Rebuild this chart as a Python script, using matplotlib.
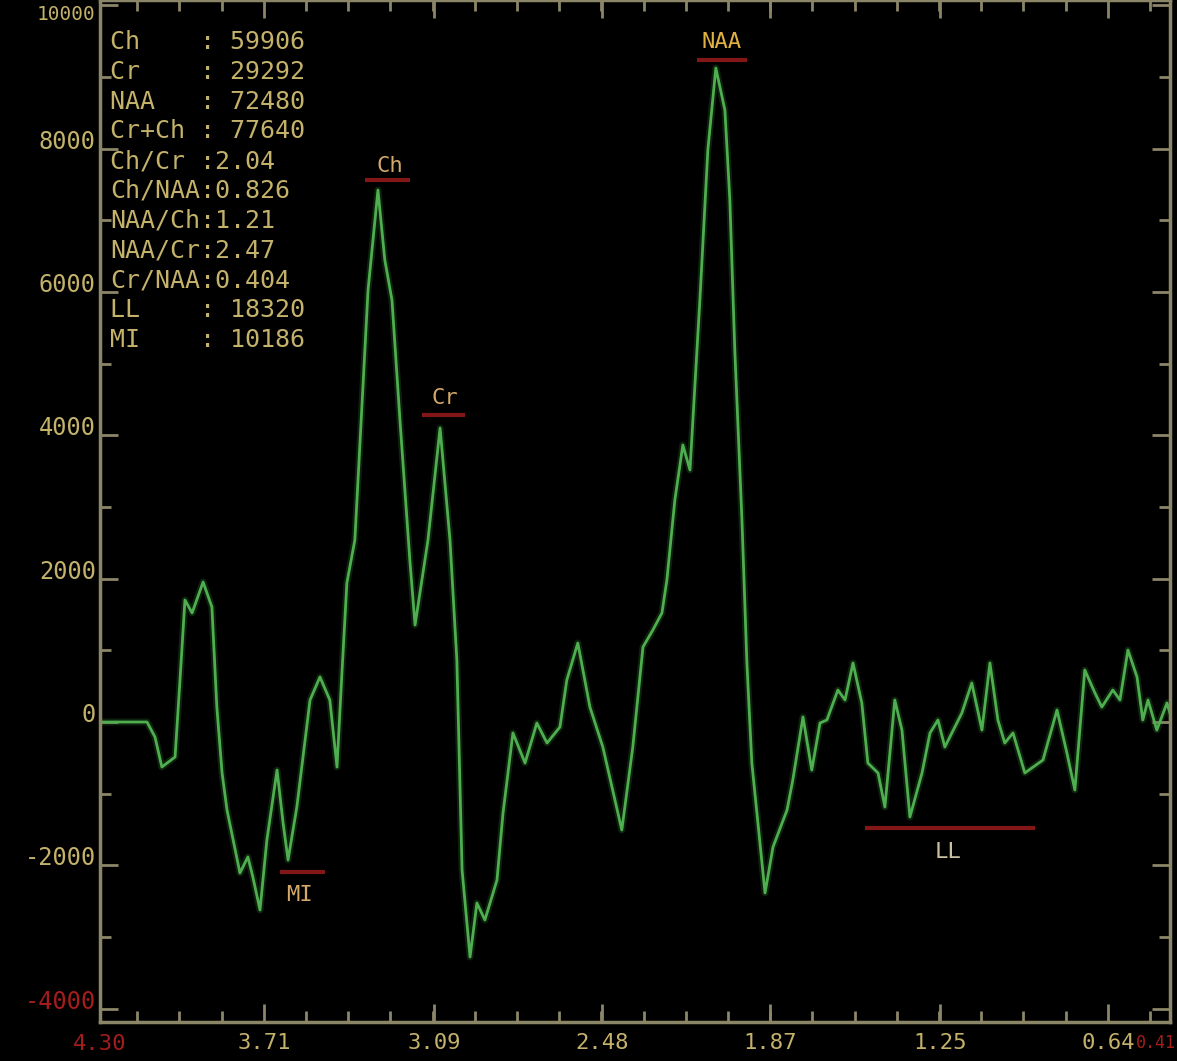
import numpy as np
import matplotlib
matplotlib.use("Agg")
import matplotlib.pyplot as plt
from matplotlib.ticker import FixedLocator

# ---------------- data ----------------
ppm = [4.306, 4.135, 4.106, 4.081, 4.033, 4.015, 3.997, 3.971, 3.931, 3.899,
       3.881, 3.862, 3.844, 3.797, 3.768, 3.750, 3.724, 3.699, 3.662, 3.640,
       3.622, 3.590, 3.542, 3.506, 3.470, 3.444, 3.426, 3.408, 3.379, 3.331,
       3.295, 3.270, 3.244, 3.215, 3.179, 3.160, 3.113, 3.069, 3.033, 3.008,
       2.989, 2.960, 2.935, 2.906, 2.862, 2.840, 2.804, 2.760, 2.717, 2.680,
       2.633, 2.608, 2.568, 2.524, 2.477, 2.408, 2.368, 2.331, 2.295, 2.262,
       2.244, 2.215, 2.186, 2.160, 2.124, 2.095, 2.066, 2.033, 2.015, 1.997,
       1.971, 1.953, 1.935, 1.887, 1.858, 1.807, 1.786, 1.749, 1.717, 1.687,
       1.662, 1.622, 1.596, 1.567, 1.535, 1.513, 1.476, 1.451, 1.415, 1.389,
       1.360, 1.316, 1.287, 1.258, 1.233, 1.171, 1.135, 1.098, 1.069, 1.040,
       1.015, 0.985, 0.942, 0.876, 0.825, 0.789, 0.760, 0.724, 0.687, 0.662,
       0.622, 0.596, 0.567, 0.534, 0.513, 0.494, 0.462, 0.425, 0.407]
intensity = [0, 0, -209, -628, -488, 586, 1702, 1521, 1953, 1604,
             209, -711, -1228, -2106, -1883, -2162, -2623, -1646, -670, -1409,
             -1925, -1186, 307, 628, 307, -628, 684, 1939, 2539, 6026,
             7421, 6445, 5887, 4213, 2260, 1353, 2539, 4101, 2539, 865,
             -2065, -3278, -2525, -2762, -2204, -1269, -153, -572, -14, -293,
             -70, 586, 1102, 209, -349, -1507, -349, 1046, 1283, 1521,
             1981, 3097, 3864, 3515, 5887, 7979, 9123, 8537, 7282, 5189,
             2818, 823, -572, -2385, -1744, -1228, -809, 70, -670, -14,
             28, 446, 307, 823, 265, -572, -711, -1186, 307, -112,
             -1325, -711, -153, 28, -349, 126, 544, -112, 823, 28,
             -293, -153, -711, -530, 167, -432, -949, 725, 405, 209,
             446, 307, 1004, 628, 28, 307, -112, 265, 28]

x_tick_values = [3.71, 3.09, 2.48, 1.87, 1.25, 0.64]
x_tick_labels = ["3.71", "3.09", "2.48", "1.87", "1.25", "0.64"]
x_left_label = "4.30"
x_right_label = "0.41"
y_tick_values = [-4000, -2000, 0, 2000, 4000, 6000, 8000, 10000]
y_tick_labels = ["-4000", "-2000", "0", "2000", "4000", "6000", "8000", "10000"]

metab_names = ["Ch", "Cr", "NAA", "Cr+Ch", "Ch/Cr", "Ch/NAA", "NAA/Ch",
               "NAA/Cr", "Cr/NAA", "LL", "MI"]
metab_values = ["59906", "29292", "72480", "77640", "2.04", "0.826", "1.21",
                "2.47", "0.404", "18320", "10186"]

# peak annotations: (label, text ppm, text value, bar start, bar end, bar value)
peak_labels = [
    ("Ch", 3.251, 7750, 3.342, 3.179, 7560),
    ("Cr", 3.051, 4520, 3.135, 2.978, 4283),
    ("NAA", 2.044, 9480, 2.135, 1.953, 9235),
    ("MI", 3.579, -2420, 3.651, 3.488, -2093),
    ("LL", 1.222, -1820, 1.524, 0.905, -1479),
]

# ---------------- style ----------------
AXCOL = "#8c8668"
TXTCOL = "#c4b26a"
RED = "#a51c1c"
GREEN = "#3f9f3f"
FONT = "DejaVu Sans Mono"
FS = 16

W, H = 1177, 1061
fig = plt.figure(figsize=(W / 100, H / 100), dpi=100, facecolor="black")
ax = fig.add_axes([100 / W, 39 / H, 1070 / W, 1022 / H])
ax.set_facecolor("black")

ax.plot(ppm, intensity, color=GREEN, lw=5, alpha=0.22, solid_joinstyle="round")
ax.plot(ppm, intensity, color="#4fae4f", lw=2.0, solid_joinstyle="round")

ax.set_xlim(4.306, 0.414)
ax.set_ylim(-4185, 10072)

for s in ax.spines.values():
    s.set_color(AXCOL)
    s.set_linewidth(2.5)

# ticks
ax.xaxis.set_major_locator(FixedLocator(x_tick_values))
ax.set_xticklabels(x_tick_labels)
step = (x_tick_values[0] - x_tick_values[-1]) / 20
minor_x = [x_tick_values[-1] + k * step for k in range(-1, 24)]
ax.xaxis.set_minor_locator(FixedLocator(minor_x))
ax.yaxis.set_major_locator(FixedLocator(y_tick_values))
ax.set_yticklabels(y_tick_labels)
ax.yaxis.set_minor_locator(FixedLocator(list(range(-3000, 10000, 2000))))

ax.tick_params(which="both", direction="in", color=AXCOL, width=2,
               top=True, right=True, labelcolor=TXTCOL, labelsize=FS)
ax.tick_params(which="major", length=13)
ax.tick_params(which="minor", length=8)
ax.tick_params(axis="x", pad=8)
ax.tick_params(axis="y", pad=3, labelsize=17)
for lab in ax.get_xticklabels() + ax.get_yticklabels():
    lab.set_family(FONT)
for lab in ax.get_yticklabels():
    lab.set_verticalalignment("baseline")
    if lab.get_text() == "-4000":
        lab.set_color(RED)
    if lab.get_text() == "10000":
        lab.set_verticalalignment("top")
        lab.set_fontsize(14)

# red edge labels on x axis
ax.text(4.306, -0.012, x_left_label, transform=ax.get_xaxis_transform(),
        color=RED, fontsize=FS, family=FONT, ha="center", va="top", clip_on=False)
fig.text(1176 / W, 1 - 1043 / H, x_right_label, color=RED, fontsize=12,
         family=FONT, ha="right", va="center")

# info block
for i, (n, v) in enumerate(zip(metab_names, metab_values)):
    sep = ": " if "." not in v else ":"
    line = f"{n:<6}{sep}{v}"
    yp = 42 + i * 29.8
    fig.text(110 / W, 1 - yp / H, line, color=TXTCOL, fontsize=18,
             family=FONT, ha="left", va="center")

# peak labels
for lab, tx, ty, b0, b1, by in peak_labels:
    ax.plot([b0, b1], [by, by], color=RED, lw=3, alpha=0.8, solid_capstyle="butt")
    col = "#e0b040" if lab == "NAA" else "#d4a868"
    if lab == "LL":
        col = "#c8c0a0"
    ax.text(tx, ty, lab, color=col, fontsize=FS, family=FONT,
            ha="center", va="center")

fig.savefig("out.png", dpi=100, facecolor="black")
